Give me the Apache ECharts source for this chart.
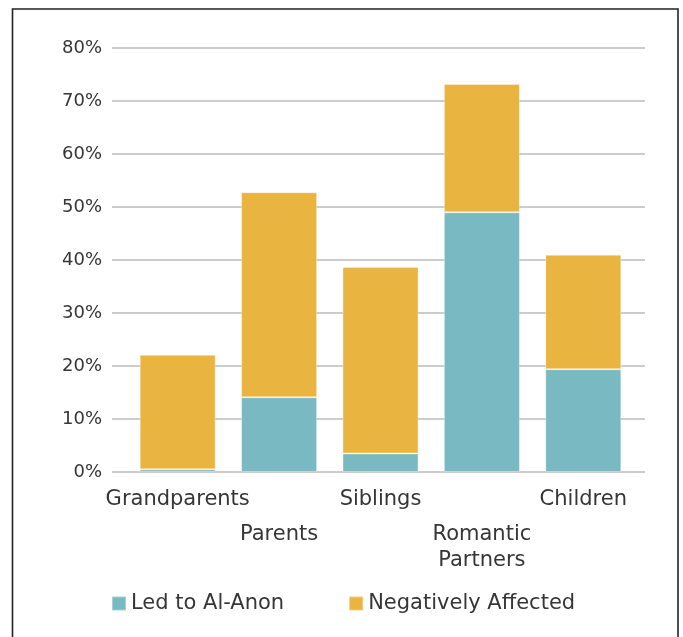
<!DOCTYPE html>
<html>
<head>
<meta charset="utf-8">
<script src="https://cdn.jsdelivr.net/npm/echarts@6/dist/echarts.min.js"></script>
<style>
html,body{margin:0;padding:0;background:#fff;}
#c{width:683px;height:637px;}
</style>
</head>
<body>
<div id="c"></div>
<script>
const categories = ['Grandparents', 'Parents', 'Siblings', 'Romantic Partners', 'Children'];
const ledToAlAnon = [0.5, 14.1, 3.5, 49.0, 19.4];
const negativelyAffected = [21.6, 38.7, 35.2, 24.2, 21.6];
const seriesNames = ['Led to Al-Anon', 'Negatively Affected'];
const yMax = 80;
const yInterval = 10;

const FONT = 'DejaVu Sans';
const TXT = '#363636';
const chart = echarts.init(document.getElementById('c'));
chart.setOption({
  animation: false,
  backgroundColor: '#ffffff',
  textStyle: { fontFamily: FONT },
  graphic: [{
    type: 'rect', silent: true, z: 100,
    shape: { x: 12.5, y: 9, width: 665.5, height: 700 },
    style: { fill: 'none', stroke: '#222222', lineWidth: 1.6 }
  }],
  legend: {
    data: seriesNames,
    left: 106, top: 588,
    itemWidth: 14, itemHeight: 14, itemGap: 64,
    icon: 'rect',
    textStyle: { fontFamily: FONT, fontSize: 21, color: TXT }
  },
  grid: [
    { left: 112, right: 38, top: 48, bottom: 165 },
    { left: 127, right: 49, top: 48, bottom: 165 }
  ],
  xAxis: [
    { type: 'value', gridIndex: 0, show: false, min: 0, max: 1 },
    {
      type: 'category', gridIndex: 1, data: categories,
      axisLine: { show: false }, axisTick: { show: false },
      axisLabel: {
        interval: 0, margin: 15, color: TXT, fontFamily: FONT, fontSize: 21,
        formatter: function (v, i) {
          const lines = v.split(' ').map(w => '{a|' + w + '}').join('\n');
          return i % 2 ? '{g| }\n' + lines : lines;
        },
        rich: {
          a: { fontFamily: FONT, fontSize: 21, color: TXT, lineHeight: 26 },
          g: { fontSize: 18, lineHeight: 35 }
        }
      }
    }
  ],
  yAxis: [
    {
      type: 'value', gridIndex: 0, min: 0, max: yMax, interval: yInterval,
      axisLine: { show: false }, axisTick: { show: false },
      axisLabel: { formatter: '{value}%', color: TXT, fontFamily: FONT, fontSize: 18, margin: 10 },
      splitLine: { lineStyle: { color: '#cccccc', width: 2 } }
    },
    {
      type: 'value', gridIndex: 1, min: 0, max: yMax, interval: yInterval,
      show: false, splitLine: { show: false }
    }
  ],
  series: [
    {
      name: seriesNames[0], type: 'bar', stack: 's', xAxisIndex: 1, yAxisIndex: 1,
      data: ledToAlAnon, barWidth: 76,
      itemStyle: { color: '#79B9C2', borderColor: 'rgba(255,255,255,0.35)', borderWidth: 1 }
    },
    {
      name: seriesNames[1], type: 'bar', stack: 's', xAxisIndex: 1, yAxisIndex: 1,
      data: negativelyAffected, barWidth: 76,
      itemStyle: { color: '#EAB441', borderColor: 'rgba(255,255,255,0.35)', borderWidth: 1 }
    }
  ]
});
</script>
</body>
</html>
